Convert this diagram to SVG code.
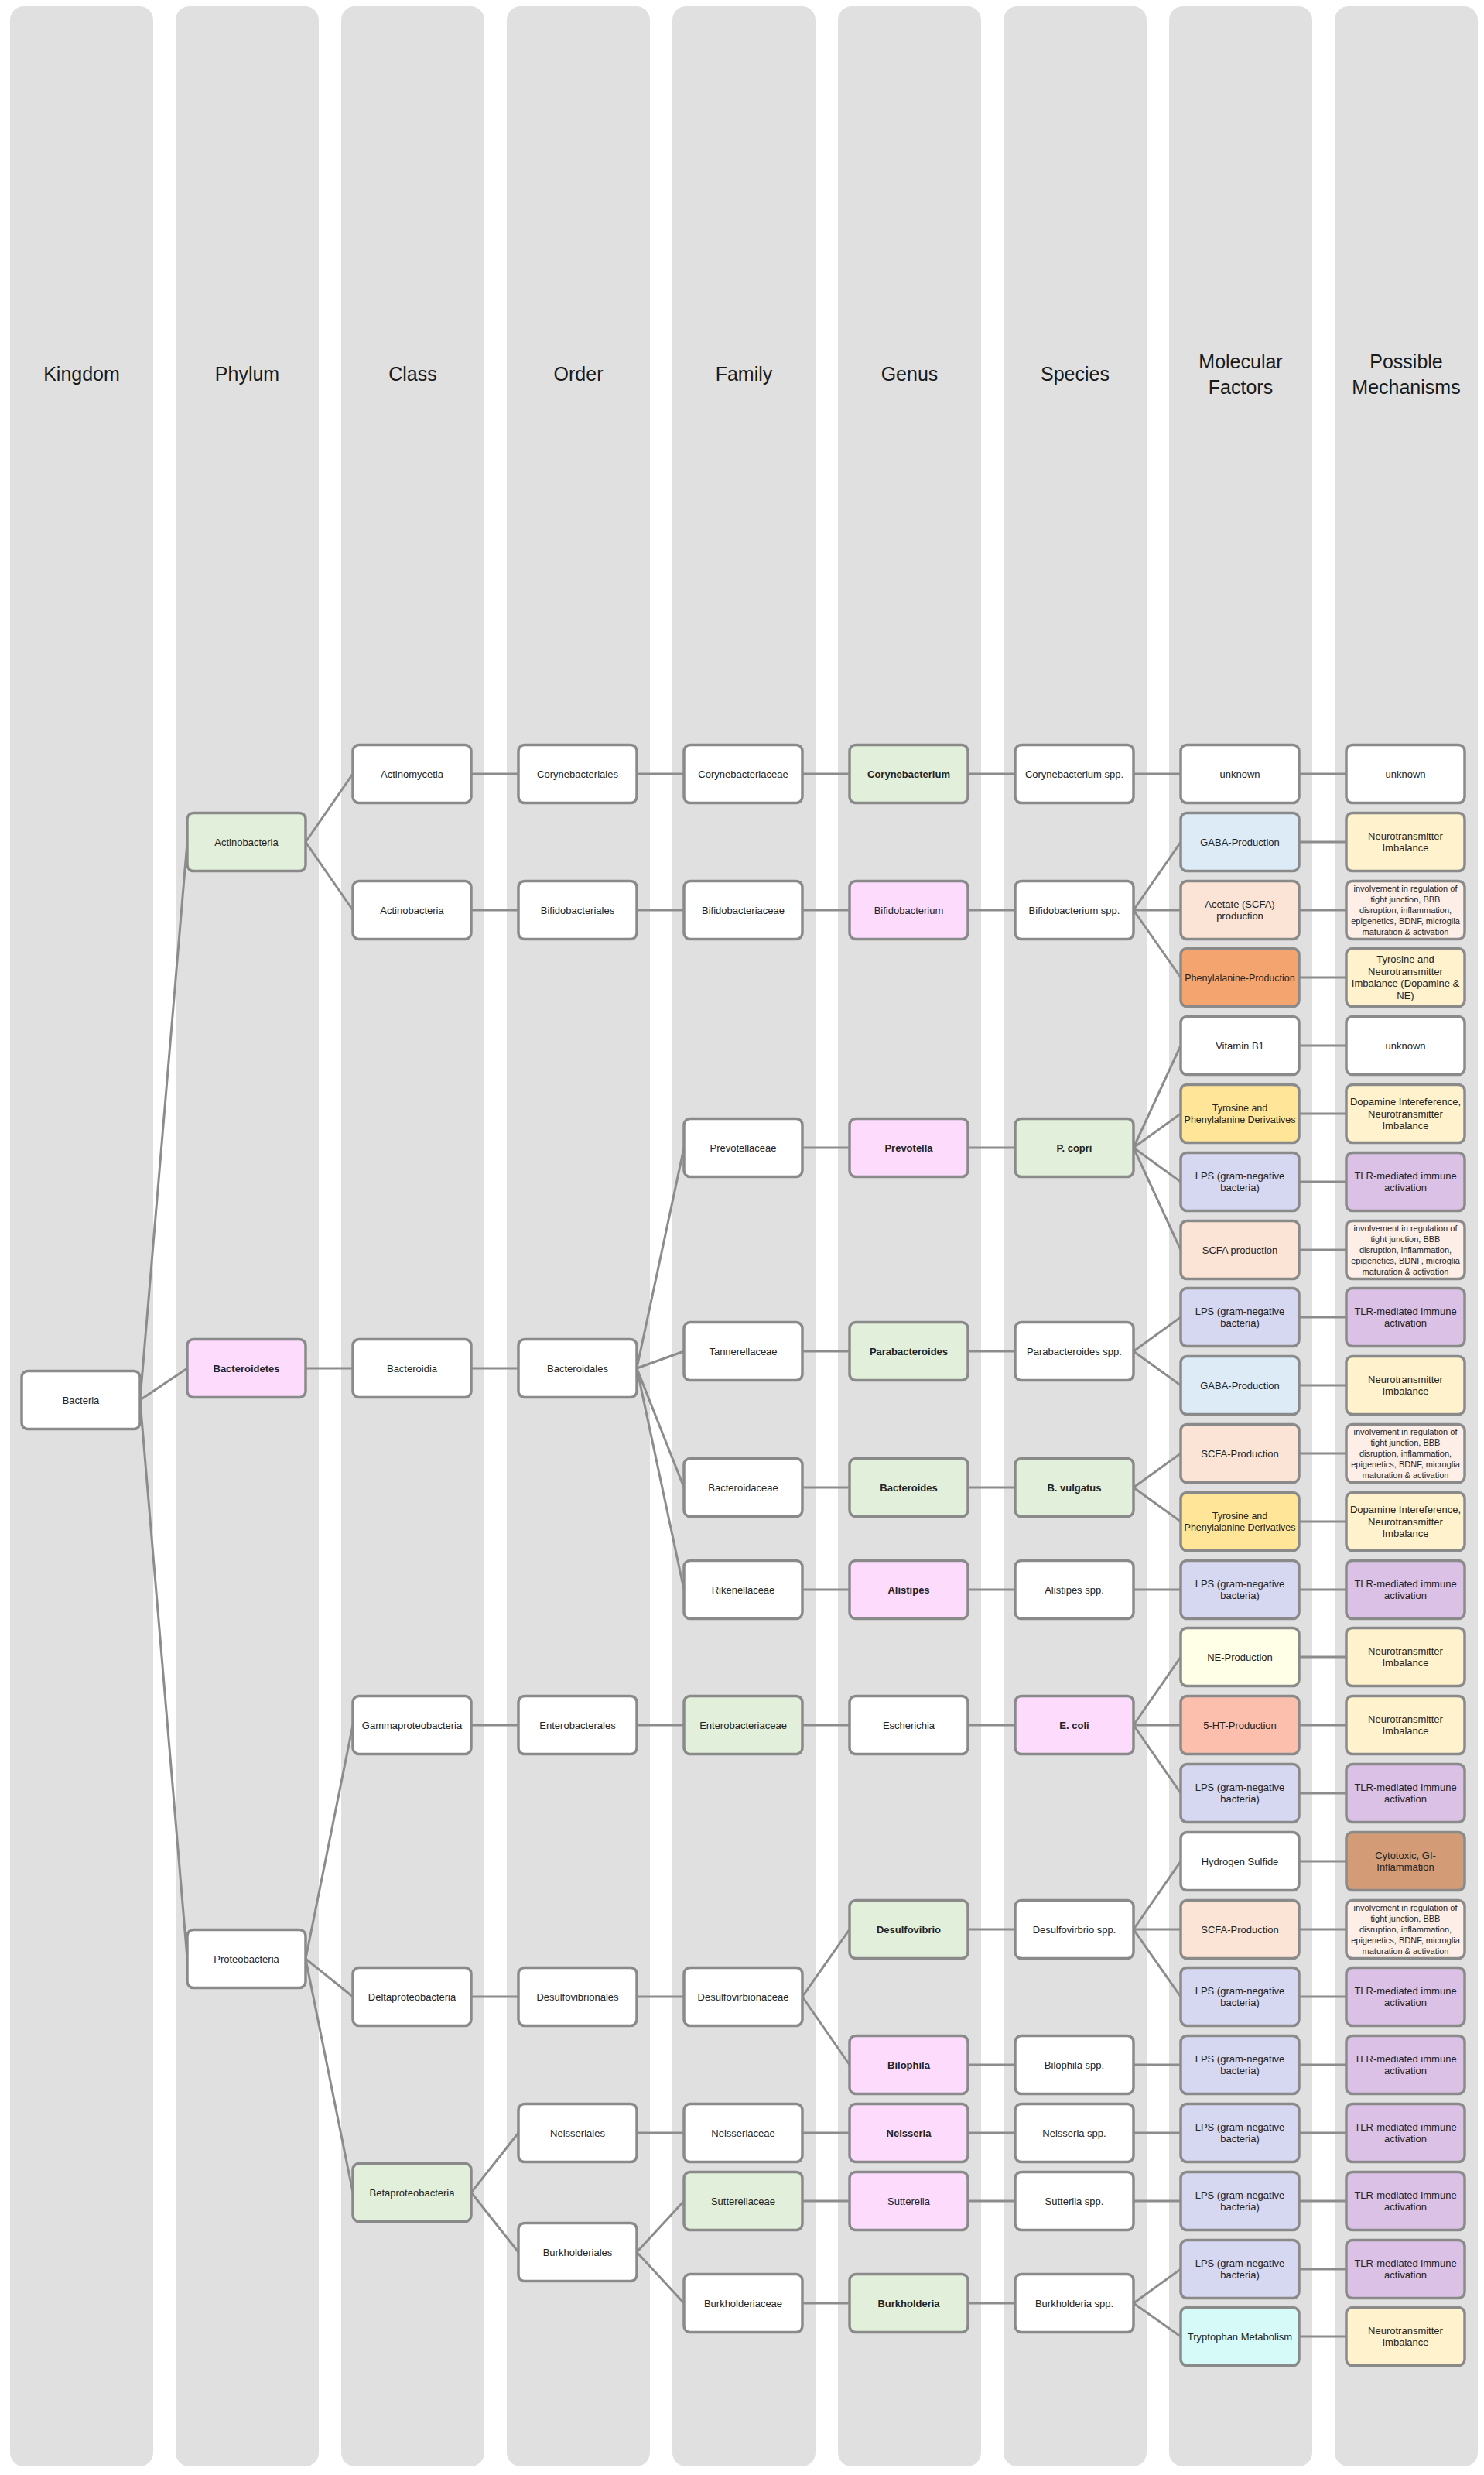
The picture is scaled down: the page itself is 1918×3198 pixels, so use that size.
<svg xmlns="http://www.w3.org/2000/svg" width="1918" height="3198" viewBox="0 0 1918 3198">
<style>
.lane{fill:#e0e0e0}
.n use{stroke:#8a8a8a;stroke-width:3.5}
.n text{font-family:"Liberation Sans",Arial,sans-serif;font-size:13px;fill:#222;text-anchor:middle}
.n text.b{font-weight:bold}
.n text.sm{font-size:11px}
.n text.md{font-size:12.5px}
.hd{font-family:"Liberation Sans",Arial,sans-serif;font-size:25px;fill:#1a1a1a;text-anchor:middle}
.cn line{stroke:#8c8c8c;stroke-width:3}
.w{fill:#ffffff}.gr{fill:#e2efda}.pk{fill:#fddbfd}.bl{fill:#ddebf7}.pe{fill:#fbe4d5}.or{fill:#f4a46f}.go{fill:#ffe597}.ye{fill:#fff2cc}.lv{fill:#d6d7f1}.pu{fill:#dcc1e7}.lp{fill:#fdefe7}.ly{fill:#fffee6}.sa{fill:#fcbfae}.br{fill:#d39c77}.cy{fill:#d5faf7}
</style>
<defs>
<rect id="box" x="0" y="-37.5" width="153" height="75" rx="8"/>
</defs>
<g id="lanes">
<rect class="lane" x="13" y="8" width="185" height="3179" rx="18"/>
<rect class="lane" x="227" y="8" width="185" height="3179" rx="18"/>
<rect class="lane" x="441" y="8" width="185" height="3179" rx="18"/>
<rect class="lane" x="655" y="8" width="185" height="3179" rx="18"/>
<rect class="lane" x="869" y="8" width="185" height="3179" rx="18"/>
<rect class="lane" x="1083" y="8" width="185" height="3179" rx="18"/>
<rect class="lane" x="1297" y="8" width="185" height="3179" rx="18"/>
<rect class="lane" x="1511" y="8" width="185" height="3179" rx="18"/>
<rect class="lane" x="1725" y="8" width="185" height="3179" rx="18"/>
<text class="hd" x="105.5" y="492">Kingdom</text>
<text class="hd" x="319.5" y="492">Phylum</text>
<text class="hd" x="533.5" y="492">Class</text>
<text class="hd" x="747.5" y="492">Order</text>
<text class="hd" x="961.5" y="492">Family</text>
<text class="hd" x="1175.5" y="492">Genus</text>
<text class="hd" x="1389.5" y="492">Species</text>
<text class="hd" x="1603.5" y="476"><tspan x="1603.5">Molecular</tspan><tspan x="1603.5" dy="33">Factors</tspan></text>
<text class="hd" x="1817.5" y="476"><tspan x="1817.5">Possible</tspan><tspan x="1817.5" dy="33">Mechanisms</tspan></text>
</g>
<g id="connectors" class="cn">
<line x1="181" y1="1809" x2="242" y2="1088"/>
<line x1="181" y1="1809" x2="242" y2="1768"/>
<line x1="181" y1="1809" x2="242" y2="2531"/>
<line x1="395" y1="1088" x2="456" y2="1000"/>
<line x1="395" y1="1088" x2="456" y2="1176"/>
<line x1="395" y1="1768" x2="456" y2="1768"/>
<line x1="395" y1="2531" x2="456" y2="2229"/>
<line x1="395" y1="2531" x2="456" y2="2580"/>
<line x1="395" y1="2531" x2="456" y2="2833"/>
<line x1="609" y1="1000" x2="670" y2="1000"/>
<line x1="609" y1="1176" x2="670" y2="1176"/>
<line x1="609" y1="1768" x2="670" y2="1768"/>
<line x1="609" y1="2229" x2="670" y2="2229"/>
<line x1="609" y1="2580" x2="670" y2="2580"/>
<line x1="609" y1="2833" x2="670" y2="2756"/>
<line x1="609" y1="2833" x2="670" y2="2910"/>
<line x1="823" y1="1000" x2="884" y2="1000"/>
<line x1="823" y1="1176" x2="884" y2="1176"/>
<line x1="823" y1="1768" x2="884" y2="1483"/>
<line x1="823" y1="1768" x2="884" y2="1746"/>
<line x1="823" y1="1768" x2="884" y2="1922"/>
<line x1="823" y1="1768" x2="884" y2="2054"/>
<line x1="823" y1="2229" x2="884" y2="2229"/>
<line x1="823" y1="2580" x2="884" y2="2580"/>
<line x1="823" y1="2756" x2="884" y2="2756"/>
<line x1="823" y1="2910" x2="884" y2="2844"/>
<line x1="823" y1="2910" x2="884" y2="2976"/>
<line x1="1037" y1="1000" x2="1098" y2="1000"/>
<line x1="1037" y1="1176" x2="1098" y2="1176"/>
<line x1="1037" y1="1483" x2="1098" y2="1483"/>
<line x1="1037" y1="1746" x2="1098" y2="1746"/>
<line x1="1037" y1="1922" x2="1098" y2="1922"/>
<line x1="1037" y1="2054" x2="1098" y2="2054"/>
<line x1="1037" y1="2229" x2="1098" y2="2229"/>
<line x1="1037" y1="2580" x2="1098" y2="2493"/>
<line x1="1037" y1="2580" x2="1098" y2="2668"/>
<line x1="1037" y1="2756" x2="1098" y2="2756"/>
<line x1="1037" y1="2844" x2="1098" y2="2844"/>
<line x1="1037" y1="2976" x2="1098" y2="2976"/>
<line x1="1251" y1="1000" x2="1312" y2="1000"/>
<line x1="1251" y1="1176" x2="1312" y2="1176"/>
<line x1="1251" y1="1483" x2="1312" y2="1483"/>
<line x1="1251" y1="1746" x2="1312" y2="1746"/>
<line x1="1251" y1="1922" x2="1312" y2="1922"/>
<line x1="1251" y1="2054" x2="1312" y2="2054"/>
<line x1="1251" y1="2229" x2="1312" y2="2229"/>
<line x1="1251" y1="2493" x2="1312" y2="2493"/>
<line x1="1251" y1="2668" x2="1312" y2="2668"/>
<line x1="1251" y1="2756" x2="1312" y2="2756"/>
<line x1="1251" y1="2844" x2="1312" y2="2844"/>
<line x1="1251" y1="2976" x2="1312" y2="2976"/>
<line x1="1465" y1="1000" x2="1526" y2="1000"/>
<line x1="1465" y1="1176" x2="1526" y2="1088"/>
<line x1="1465" y1="1176" x2="1526" y2="1176"/>
<line x1="1465" y1="1176" x2="1526" y2="1263"/>
<line x1="1465" y1="1483" x2="1526" y2="1351"/>
<line x1="1465" y1="1483" x2="1526" y2="1439"/>
<line x1="1465" y1="1483" x2="1526" y2="1527"/>
<line x1="1465" y1="1483" x2="1526" y2="1615"/>
<line x1="1465" y1="1746" x2="1526" y2="1702"/>
<line x1="1465" y1="1746" x2="1526" y2="1790"/>
<line x1="1465" y1="1922" x2="1526" y2="1878"/>
<line x1="1465" y1="1922" x2="1526" y2="1966"/>
<line x1="1465" y1="2054" x2="1526" y2="2054"/>
<line x1="1465" y1="2229" x2="1526" y2="2141"/>
<line x1="1465" y1="2229" x2="1526" y2="2229"/>
<line x1="1465" y1="2229" x2="1526" y2="2317"/>
<line x1="1465" y1="2493" x2="1526" y2="2405"/>
<line x1="1465" y1="2493" x2="1526" y2="2493"/>
<line x1="1465" y1="2493" x2="1526" y2="2580"/>
<line x1="1465" y1="2668" x2="1526" y2="2668"/>
<line x1="1465" y1="2756" x2="1526" y2="2756"/>
<line x1="1465" y1="2844" x2="1526" y2="2844"/>
<line x1="1465" y1="2976" x2="1526" y2="2932"/>
<line x1="1465" y1="2976" x2="1526" y2="3019"/>
<line x1="1679" y1="1000" x2="1740" y2="1000"/>
<line x1="1679" y1="1088" x2="1740" y2="1088"/>
<line x1="1679" y1="1176" x2="1740" y2="1176"/>
<line x1="1679" y1="1263" x2="1740" y2="1263"/>
<line x1="1679" y1="1351" x2="1740" y2="1351"/>
<line x1="1679" y1="1439" x2="1740" y2="1439"/>
<line x1="1679" y1="1527" x2="1740" y2="1527"/>
<line x1="1679" y1="1615" x2="1740" y2="1615"/>
<line x1="1679" y1="1702" x2="1740" y2="1702"/>
<line x1="1679" y1="1790" x2="1740" y2="1790"/>
<line x1="1679" y1="1878" x2="1740" y2="1878"/>
<line x1="1679" y1="1966" x2="1740" y2="1966"/>
<line x1="1679" y1="2054" x2="1740" y2="2054"/>
<line x1="1679" y1="2141" x2="1740" y2="2141"/>
<line x1="1679" y1="2229" x2="1740" y2="2229"/>
<line x1="1679" y1="2317" x2="1740" y2="2317"/>
<line x1="1679" y1="2405" x2="1740" y2="2405"/>
<line x1="1679" y1="2493" x2="1740" y2="2493"/>
<line x1="1679" y1="2580" x2="1740" y2="2580"/>
<line x1="1679" y1="2668" x2="1740" y2="2668"/>
<line x1="1679" y1="2756" x2="1740" y2="2756"/>
<line x1="1679" y1="2844" x2="1740" y2="2844"/>
<line x1="1679" y1="2932" x2="1740" y2="2932"/>
<line x1="1679" y1="3019" x2="1740" y2="3019"/>
</g>
<g id="nodes">
<!-- Kingdom -->
<g id="k-bacteria" class="n" transform="translate(28,1809)"><use href="#box" class="w"/><text x="76.5" y="4.5">Bacteria</text></g>
<!-- Phylum -->
<g id="p-actinobacteria" class="n" transform="translate(242,1088)"><use href="#box" class="gr"/><text x="76.5" y="4.5">Actinobacteria</text></g>
<g id="p-bacteroidetes" class="n" transform="translate(242,1768)"><use href="#box" class="pk"/><text class="b" x="76.5" y="4.5">Bacteroidetes</text></g>
<g id="p-proteobacteria" class="n" transform="translate(242,2531)"><use href="#box" class="w"/><text x="76.5" y="4.5">Proteobacteria</text></g>
<!-- Class -->
<g id="c-actinomycetia" class="n" transform="translate(456,1000)"><use href="#box" class="w"/><text x="76.5" y="4.5">Actinomycetia</text></g>
<g id="c-actinobacteria" class="n" transform="translate(456,1176)"><use href="#box" class="w"/><text x="76.5" y="4.5">Actinobacteria</text></g>
<g id="c-bacteroidia" class="n" transform="translate(456,1768)"><use href="#box" class="w"/><text x="76.5" y="4.5">Bacteroidia</text></g>
<g id="c-gammaproteobacteria" class="n" transform="translate(456,2229)"><use href="#box" class="w"/><text x="76.5" y="4.5">Gammaproteobacteria</text></g>
<g id="c-deltaproteobacteria" class="n" transform="translate(456,2580)"><use href="#box" class="w"/><text x="76.5" y="4.5">Deltaproteobacteria</text></g>
<g id="c-betaproteobacteria" class="n" transform="translate(456,2833)"><use href="#box" class="gr"/><text x="76.5" y="4.5">Betaproteobacteria</text></g>
<!-- Order -->
<g id="o-corynebacteriales" class="n" transform="translate(670,1000)"><use href="#box" class="w"/><text x="76.5" y="4.5">Corynebacteriales</text></g>
<g id="o-bifidobacteriales" class="n" transform="translate(670,1176)"><use href="#box" class="w"/><text x="76.5" y="4.5">Bifidobacteriales</text></g>
<g id="o-bacteroidales" class="n" transform="translate(670,1768)"><use href="#box" class="w"/><text x="76.5" y="4.5">Bacteroidales</text></g>
<g id="o-enterobacterales" class="n" transform="translate(670,2229)"><use href="#box" class="w"/><text x="76.5" y="4.5">Enterobacterales</text></g>
<g id="o-desulfovibrionales" class="n" transform="translate(670,2580)"><use href="#box" class="w"/><text x="76.5" y="4.5">Desulfovibrionales</text></g>
<g id="o-neisseriales" class="n" transform="translate(670,2756)"><use href="#box" class="w"/><text x="76.5" y="4.5">Neisseriales</text></g>
<g id="o-burkholderiales" class="n" transform="translate(670,2910)"><use href="#box" class="w"/><text x="76.5" y="4.5">Burkholderiales</text></g>
<!-- Family -->
<g id="f-corynebacteriaceae" class="n" transform="translate(884,1000)"><use href="#box" class="w"/><text x="76.5" y="4.5">Corynebacteriaceae</text></g>
<g id="f-bifidobacteriaceae" class="n" transform="translate(884,1176)"><use href="#box" class="w"/><text x="76.5" y="4.5">Bifidobacteriaceae</text></g>
<g id="f-prevotellaceae" class="n" transform="translate(884,1483)"><use href="#box" class="w"/><text x="76.5" y="4.5">Prevotellaceae</text></g>
<g id="f-tannerellaceae" class="n" transform="translate(884,1746)"><use href="#box" class="w"/><text x="76.5" y="4.5">Tannerellaceae</text></g>
<g id="f-bacteroidaceae" class="n" transform="translate(884,1922)"><use href="#box" class="w"/><text x="76.5" y="4.5">Bacteroidaceae</text></g>
<g id="f-rikenellaceae" class="n" transform="translate(884,2054)"><use href="#box" class="w"/><text x="76.5" y="4.5">Rikenellaceae</text></g>
<g id="f-enterobacteriaceae" class="n" transform="translate(884,2229)"><use href="#box" class="gr"/><text x="76.5" y="4.5">Enterobacteriaceae</text></g>
<g id="f-desulfovirbionaceae" class="n" transform="translate(884,2580)"><use href="#box" class="w"/><text x="76.5" y="4.5">Desulfovirbionaceae</text></g>
<g id="f-neisseriaceae" class="n" transform="translate(884,2756)"><use href="#box" class="w"/><text x="76.5" y="4.5">Neisseriaceae</text></g>
<g id="f-sutterellaceae" class="n" transform="translate(884,2844)"><use href="#box" class="gr"/><text x="76.5" y="4.5">Sutterellaceae</text></g>
<g id="f-burkholderiaceae" class="n" transform="translate(884,2976)"><use href="#box" class="w"/><text x="76.5" y="4.5">Burkholderiaceae</text></g>
<!-- Genus -->
<g id="g-corynebacterium" class="n" transform="translate(1098,1000)"><use href="#box" class="gr"/><text class="b" x="76.5" y="4.5">Corynebacterium</text></g>
<g id="g-bifidobacterium" class="n" transform="translate(1098,1176)"><use href="#box" class="pk"/><text x="76.5" y="4.5">Bifidobacterium</text></g>
<g id="g-prevotella" class="n" transform="translate(1098,1483)"><use href="#box" class="pk"/><text class="b" x="76.5" y="4.5">Prevotella</text></g>
<g id="g-parabacteroides" class="n" transform="translate(1098,1746)"><use href="#box" class="gr"/><text class="b" x="76.5" y="4.5">Parabacteroides</text></g>
<g id="g-bacteroides" class="n" transform="translate(1098,1922)"><use href="#box" class="gr"/><text class="b" x="76.5" y="4.5">Bacteroides</text></g>
<g id="g-alistipes" class="n" transform="translate(1098,2054)"><use href="#box" class="pk"/><text class="b" x="76.5" y="4.5">Alistipes</text></g>
<g id="g-escherichia" class="n" transform="translate(1098,2229)"><use href="#box" class="w"/><text x="76.5" y="4.5">Escherichia</text></g>
<g id="g-desulfovibrio" class="n" transform="translate(1098,2493)"><use href="#box" class="gr"/><text class="b" x="76.5" y="4.5">Desulfovibrio</text></g>
<g id="g-bilophila" class="n" transform="translate(1098,2668)"><use href="#box" class="pk"/><text class="b" x="76.5" y="4.5">Bilophila</text></g>
<g id="g-neisseria" class="n" transform="translate(1098,2756)"><use href="#box" class="pk"/><text class="b" x="76.5" y="4.5">Neisseria</text></g>
<g id="g-sutterella" class="n" transform="translate(1098,2844)"><use href="#box" class="pk"/><text x="76.5" y="4.5">Sutterella</text></g>
<g id="g-burkholderia" class="n" transform="translate(1098,2976)"><use href="#box" class="gr"/><text class="b" x="76.5" y="4.5">Burkholderia</text></g>
<!-- Species -->
<g id="s-corynebacterium" class="n" transform="translate(1312,1000)"><use href="#box" class="w"/><text x="76.5" y="4.5">Corynebacterium spp.</text></g>
<g id="s-bifidobacterium" class="n" transform="translate(1312,1176)"><use href="#box" class="w"/><text x="76.5" y="4.5">Bifidobacterium spp.</text></g>
<g id="s-pcopri" class="n" transform="translate(1312,1483)"><use href="#box" class="gr"/><text class="b" x="76.5" y="4.5">P. copri</text></g>
<g id="s-parabacteroides" class="n" transform="translate(1312,1746)"><use href="#box" class="w"/><text x="76.5" y="4.5">Parabacteroides spp.</text></g>
<g id="s-bvulgatus" class="n" transform="translate(1312,1922)"><use href="#box" class="gr"/><text class="b" x="76.5" y="4.5">B. vulgatus</text></g>
<g id="s-alistipes" class="n" transform="translate(1312,2054)"><use href="#box" class="w"/><text x="76.5" y="4.5">Alistipes spp.</text></g>
<g id="s-ecoli" class="n" transform="translate(1312,2229)"><use href="#box" class="pk"/><text class="b" x="76.5" y="4.5">E. coli</text></g>
<g id="s-desulfovirbrio" class="n" transform="translate(1312,2493)"><use href="#box" class="w"/><text x="76.5" y="4.5">Desulfovirbrio spp.</text></g>
<g id="s-bilophila" class="n" transform="translate(1312,2668)"><use href="#box" class="w"/><text x="76.5" y="4.5">Bilophila spp.</text></g>
<g id="s-neisseria" class="n" transform="translate(1312,2756)"><use href="#box" class="w"/><text x="76.5" y="4.5">Neisseria spp.</text></g>
<g id="s-sutterlla" class="n" transform="translate(1312,2844)"><use href="#box" class="w"/><text x="76.5" y="4.5">Sutterlla spp.</text></g>
<g id="s-burkholderia" class="n" transform="translate(1312,2976)"><use href="#box" class="w"/><text x="76.5" y="4.5">Burkholderia spp.</text></g>
<!-- Molecular Factors -->
<g id="m0" class="n" transform="translate(1526,1000)"><use href="#box" class="w"/><text x="76.5" y="4.5">unknown</text></g>
<g id="m1" class="n" transform="translate(1526,1088)"><use href="#box" class="bl"/><text x="76.5" y="4.5">GABA-Production</text></g>
<g id="m2" class="n" transform="translate(1526,1176)"><use href="#box" class="pe"/><text x="76.5" y="-3.25"><tspan x="76.5">Acetate (SCFA)</tspan><tspan x="76.5" dy="15.5">production</tspan></text></g>
<g id="m3" class="n" transform="translate(1526,1263)"><use href="#box" class="or"/><text class="md" x="76.5" y="4.5">Phenylalanine-Production</text></g>
<g id="m4" class="n" transform="translate(1526,1351)"><use href="#box" class="w"/><text x="76.5" y="4.5">Vitamin B1</text></g>
<g id="m5" class="n" transform="translate(1526,1439)"><use href="#box" class="go"/><text class="md" x="76.5" y="-3.25"><tspan x="76.5">Tyrosine and</tspan><tspan x="76.5" dy="15.5">Phenylalanine Derivatives</tspan></text></g>
<g id="m6" class="n" transform="translate(1526,1527)"><use href="#box" class="lv"/><text x="76.5" y="-3.25"><tspan x="76.5">LPS (gram-negative</tspan><tspan x="76.5" dy="15.5">bacteria)</tspan></text></g>
<g id="m7" class="n" transform="translate(1526,1615)"><use href="#box" class="pe"/><text x="76.5" y="4.5">SCFA production</text></g>
<g id="m8" class="n" transform="translate(1526,1702)"><use href="#box" class="lv"/><text x="76.5" y="-3.25"><tspan x="76.5">LPS (gram-negative</tspan><tspan x="76.5" dy="15.5">bacteria)</tspan></text></g>
<g id="m9" class="n" transform="translate(1526,1790)"><use href="#box" class="bl"/><text x="76.5" y="4.5">GABA-Production</text></g>
<g id="m10" class="n" transform="translate(1526,1878)"><use href="#box" class="pe"/><text x="76.5" y="4.5">SCFA-Production</text></g>
<g id="m11" class="n" transform="translate(1526,1966)"><use href="#box" class="go"/><text class="md" x="76.5" y="-3.25"><tspan x="76.5">Tyrosine and</tspan><tspan x="76.5" dy="15.5">Phenylalanine Derivatives</tspan></text></g>
<g id="m12" class="n" transform="translate(1526,2054)"><use href="#box" class="lv"/><text x="76.5" y="-3.25"><tspan x="76.5">LPS (gram-negative</tspan><tspan x="76.5" dy="15.5">bacteria)</tspan></text></g>
<g id="m13" class="n" transform="translate(1526,2141)"><use href="#box" class="ly"/><text x="76.5" y="4.5">NE-Production</text></g>
<g id="m14" class="n" transform="translate(1526,2229)"><use href="#box" class="sa"/><text x="76.5" y="4.5">5-HT-Production</text></g>
<g id="m15" class="n" transform="translate(1526,2317)"><use href="#box" class="lv"/><text x="76.5" y="-3.25"><tspan x="76.5">LPS (gram-negative</tspan><tspan x="76.5" dy="15.5">bacteria)</tspan></text></g>
<g id="m16" class="n" transform="translate(1526,2405)"><use href="#box" class="w"/><text x="76.5" y="4.5">Hydrogen Sulfide</text></g>
<g id="m17" class="n" transform="translate(1526,2493)"><use href="#box" class="pe"/><text x="76.5" y="4.5">SCFA-Production</text></g>
<g id="m18" class="n" transform="translate(1526,2580)"><use href="#box" class="lv"/><text x="76.5" y="-3.25"><tspan x="76.5">LPS (gram-negative</tspan><tspan x="76.5" dy="15.5">bacteria)</tspan></text></g>
<g id="m19" class="n" transform="translate(1526,2668)"><use href="#box" class="lv"/><text x="76.5" y="-3.25"><tspan x="76.5">LPS (gram-negative</tspan><tspan x="76.5" dy="15.5">bacteria)</tspan></text></g>
<g id="m20" class="n" transform="translate(1526,2756)"><use href="#box" class="lv"/><text x="76.5" y="-3.25"><tspan x="76.5">LPS (gram-negative</tspan><tspan x="76.5" dy="15.5">bacteria)</tspan></text></g>
<g id="m21" class="n" transform="translate(1526,2844)"><use href="#box" class="lv"/><text x="76.5" y="-3.25"><tspan x="76.5">LPS (gram-negative</tspan><tspan x="76.5" dy="15.5">bacteria)</tspan></text></g>
<g id="m22" class="n" transform="translate(1526,2932)"><use href="#box" class="lv"/><text x="76.5" y="-3.25"><tspan x="76.5">LPS (gram-negative</tspan><tspan x="76.5" dy="15.5">bacteria)</tspan></text></g>
<g id="m23" class="n" transform="translate(1526,3019)"><use href="#box" class="cy"/><text x="76.5" y="4.5">Tryptophan Metabolism</text></g>
<!-- Possible Mechanisms -->
<g id="pm0" class="n" transform="translate(1740,1000)"><use href="#box" class="w"/><text x="76.5" y="4.5">unknown</text></g>
<g id="pm1" class="n" transform="translate(1740,1088)"><use href="#box" class="ye"/><text x="76.5" y="-3.25"><tspan x="76.5">Neurotransmitter</tspan><tspan x="76.5" dy="15.5">Imbalance</tspan></text></g>
<g id="pm2" class="n" transform="translate(1740,1176)"><use href="#box" class="lp"/><text class="sm" x="76.5" y="-23.7"><tspan x="76.5">involvement in regulation of</tspan><tspan x="76.5" dy="13.8">tight junction, BBB</tspan><tspan x="76.5" dy="13.8">disruption, inflammation,</tspan><tspan x="76.5" dy="13.8">epigenetics, BDNF, microglia</tspan><tspan x="76.5" dy="13.8">maturation &amp; activation</tspan></text></g>
<g id="pm3" class="n" transform="translate(1740,1263)"><use href="#box" class="ye"/><text x="76.5" y="-18.75"><tspan x="76.5">Tyrosine and</tspan><tspan x="76.5" dy="15.5">Neurotransmitter</tspan><tspan x="76.5" dy="15.5">Imbalance (Dopamine &amp;</tspan><tspan x="76.5" dy="15.5">NE)</tspan></text></g>
<g id="pm4" class="n" transform="translate(1740,1351)"><use href="#box" class="w"/><text x="76.5" y="4.5">unknown</text></g>
<g id="pm5" class="n" transform="translate(1740,1439)"><use href="#box" class="ye"/><text x="76.5" y="-11"><tspan x="76.5">Dopamine Intereference,</tspan><tspan x="76.5" dy="15.5">Neurotransmitter</tspan><tspan x="76.5" dy="15.5">Imbalance</tspan></text></g>
<g id="pm6" class="n" transform="translate(1740,1527)"><use href="#box" class="pu"/><text x="76.5" y="-3.25"><tspan x="76.5">TLR-mediated immune</tspan><tspan x="76.5" dy="15.5">activation</tspan></text></g>
<g id="pm7" class="n" transform="translate(1740,1615)"><use href="#box" class="lp"/><text class="sm" x="76.5" y="-23.7"><tspan x="76.5">involvement in regulation of</tspan><tspan x="76.5" dy="13.8">tight junction, BBB</tspan><tspan x="76.5" dy="13.8">disruption, inflammation,</tspan><tspan x="76.5" dy="13.8">epigenetics, BDNF, microglia</tspan><tspan x="76.5" dy="13.8">maturation &amp; activation</tspan></text></g>
<g id="pm8" class="n" transform="translate(1740,1702)"><use href="#box" class="pu"/><text x="76.5" y="-3.25"><tspan x="76.5">TLR-mediated immune</tspan><tspan x="76.5" dy="15.5">activation</tspan></text></g>
<g id="pm9" class="n" transform="translate(1740,1790)"><use href="#box" class="ye"/><text x="76.5" y="-3.25"><tspan x="76.5">Neurotransmitter</tspan><tspan x="76.5" dy="15.5">Imbalance</tspan></text></g>
<g id="pm10" class="n" transform="translate(1740,1878)"><use href="#box" class="lp"/><text class="sm" x="76.5" y="-23.7"><tspan x="76.5">involvement in regulation of</tspan><tspan x="76.5" dy="13.8">tight junction, BBB</tspan><tspan x="76.5" dy="13.8">disruption, inflammation,</tspan><tspan x="76.5" dy="13.8">epigenetics, BDNF, microglia</tspan><tspan x="76.5" dy="13.8">maturation &amp; activation</tspan></text></g>
<g id="pm11" class="n" transform="translate(1740,1966)"><use href="#box" class="ye"/><text x="76.5" y="-11"><tspan x="76.5">Dopamine Intereference,</tspan><tspan x="76.5" dy="15.5">Neurotransmitter</tspan><tspan x="76.5" dy="15.5">Imbalance</tspan></text></g>
<g id="pm12" class="n" transform="translate(1740,2054)"><use href="#box" class="pu"/><text x="76.5" y="-3.25"><tspan x="76.5">TLR-mediated immune</tspan><tspan x="76.5" dy="15.5">activation</tspan></text></g>
<g id="pm13" class="n" transform="translate(1740,2141)"><use href="#box" class="ye"/><text x="76.5" y="-3.25"><tspan x="76.5">Neurotransmitter</tspan><tspan x="76.5" dy="15.5">Imbalance</tspan></text></g>
<g id="pm14" class="n" transform="translate(1740,2229)"><use href="#box" class="ye"/><text x="76.5" y="-3.25"><tspan x="76.5">Neurotransmitter</tspan><tspan x="76.5" dy="15.5">Imbalance</tspan></text></g>
<g id="pm15" class="n" transform="translate(1740,2317)"><use href="#box" class="pu"/><text x="76.5" y="-3.25"><tspan x="76.5">TLR-mediated immune</tspan><tspan x="76.5" dy="15.5">activation</tspan></text></g>
<g id="pm16" class="n" transform="translate(1740,2405)"><use href="#box" class="br"/><text x="76.5" y="-3.25"><tspan x="76.5">Cytotoxic, GI-</tspan><tspan x="76.5" dy="15.5">Inflammation</tspan></text></g>
<g id="pm17" class="n" transform="translate(1740,2493)"><use href="#box" class="lp"/><text class="sm" x="76.5" y="-23.7"><tspan x="76.5">involvement in regulation of</tspan><tspan x="76.5" dy="13.8">tight junction, BBB</tspan><tspan x="76.5" dy="13.8">disruption, inflammation,</tspan><tspan x="76.5" dy="13.8">epigenetics, BDNF, microglia</tspan><tspan x="76.5" dy="13.8">maturation &amp; activation</tspan></text></g>
<g id="pm18" class="n" transform="translate(1740,2580)"><use href="#box" class="pu"/><text x="76.5" y="-3.25"><tspan x="76.5">TLR-mediated immune</tspan><tspan x="76.5" dy="15.5">activation</tspan></text></g>
<g id="pm19" class="n" transform="translate(1740,2668)"><use href="#box" class="pu"/><text x="76.5" y="-3.25"><tspan x="76.5">TLR-mediated immune</tspan><tspan x="76.5" dy="15.5">activation</tspan></text></g>
<g id="pm20" class="n" transform="translate(1740,2756)"><use href="#box" class="pu"/><text x="76.5" y="-3.25"><tspan x="76.5">TLR-mediated immune</tspan><tspan x="76.5" dy="15.5">activation</tspan></text></g>
<g id="pm21" class="n" transform="translate(1740,2844)"><use href="#box" class="pu"/><text x="76.5" y="-3.25"><tspan x="76.5">TLR-mediated immune</tspan><tspan x="76.5" dy="15.5">activation</tspan></text></g>
<g id="pm22" class="n" transform="translate(1740,2932)"><use href="#box" class="pu"/><text x="76.5" y="-3.25"><tspan x="76.5">TLR-mediated immune</tspan><tspan x="76.5" dy="15.5">activation</tspan></text></g>
<g id="pm23" class="n" transform="translate(1740,3019)"><use href="#box" class="ye"/><text x="76.5" y="-3.25"><tspan x="76.5">Neurotransmitter</tspan><tspan x="76.5" dy="15.5">Imbalance</tspan></text></g>
</g>
</svg>
